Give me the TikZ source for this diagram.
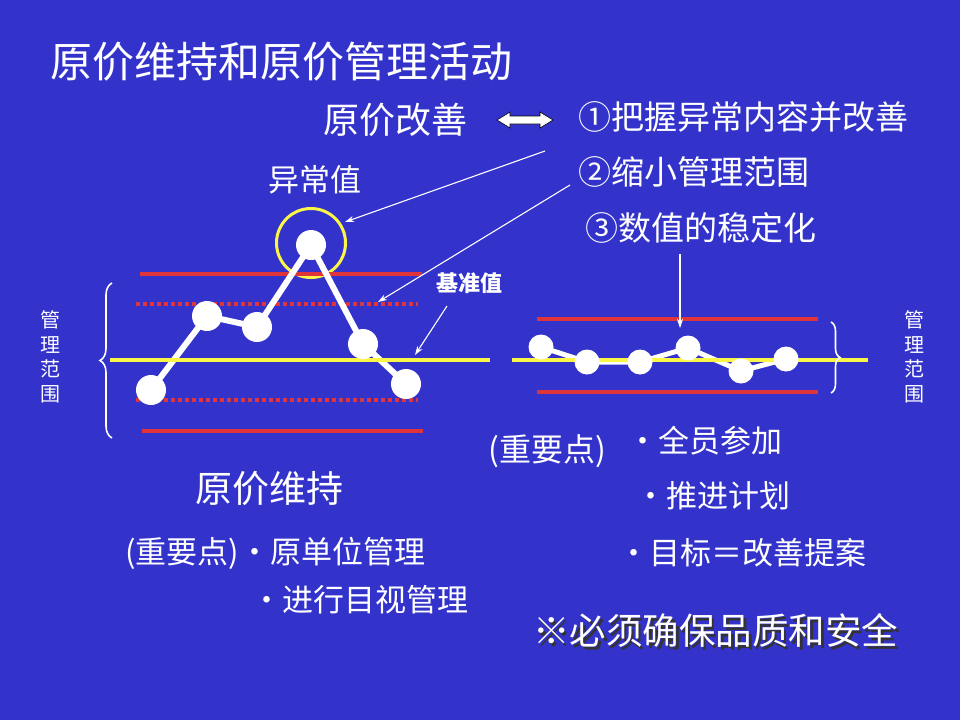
\documentclass[tikz,border=0pt]{standalone}
\usepackage{fontspec}
\newfontfamily\cjk{Noto Sans CJK SC}
\usetikzlibrary{arrows.meta,decorations.pathreplacing}
\definecolor{bg}{RGB}{51,51,204}
\definecolor{rline}{RGB}{222,52,58}
\definecolor{yline}{RGB}{250,245,70}
\tikzset{
  txt/.style={anchor=west,inner sep=0pt,text=white,font=\cjk},
  ptr/.style={draw=white,line width=1.1pt,-{Stealth[length=9pt,width=6pt]}},
  ctrl/.style={draw=rline,line width=4pt},
  ctrldot/.style={draw=rline,line width=3.5pt,dash pattern=on 3.5pt off 3.5pt},
  base/.style={draw=yline,line width=4pt},
  dotL/.style={circle,fill=white,minimum size=30pt,inner sep=0pt},
  dotR/.style={circle,fill=white,minimum size=25pt,inner sep=0pt},
  trendL/.style={draw=white,line width=6pt},
  trendR/.style={draw=white,line width=5pt},
  brace/.style={draw=white,line width=1.6pt,decorate},
  vtext/.style={inner sep=0pt,text=white,align=center,font=\cjk\fontsize{20}{24.5}\selectfont},
}
\newcommand{\shadowtext}[1]{\rlap{\kern2.5pt\raisebox{-2.5pt}{\color{black!80}#1}}#1}
\begin{document}
\begin{tikzpicture}[x=1pt,y=-1pt]
\fill[bg] (0,0) rectangle (960,720);
\useasboundingbox (0,0) rectangle (960,720);

% titles
\node[txt,font=\cjk\fontsize{42}{46}\selectfont] (title) at (50,62) {原价维持和原价管理活动};
\node[txt,font=\cjk\fontsize{36}{40}\selectfont] (kaizen) at (323,120) {原价改善};
\draw[fill=white,draw=black,line width=0.6pt] (497,120) -- (510,112) -- (510,116) -- (540,116) -- (540,112) -- (553,120) -- (540,128) -- (540,124) -- (510,124) -- (510,128) -- cycle;
\node[txt,font=\cjk\fontsize{33}{37}\selectfont] (s1) at (578,117) {①把握异常内容并改善};
\node[txt,font=\cjk\fontsize{33}{37}\selectfont] (s2) at (578,172) {②缩小管理范围};
\node[txt,font=\cjk\fontsize{33}{37}\selectfont] (s3) at (585,228) {③数值的稳定化};
\node[txt,font=\cjk\fontsize{31}{35}\selectfont] (abn) at (268,180) {异常值};
\node[txt,font=\cjk\bfseries\fontsize{22}{26}\selectfont] (ref) at (436,283) {基准值};

% left chart
\node[draw=yline,line width=3pt,circle,minimum size=69pt,inner sep=0pt] (ring) at (311,243) {};
\coordinate (lt1) at (140,274); \coordinate (lt2) at (422,274);
\coordinate (lb1) at (142,431); \coordinate (lb2) at (423,431);
\coordinate (ld1) at (136,304); \coordinate (ld2) at (418,304);
\coordinate (le1) at (136,400); \coordinate (le2) at (418,400);
\draw[ctrl] (lt1) -- (lt2);
\draw[ctrl] (lb1) -- (lb2);
\draw[ctrldot] (ld1) -- (ld2);
\draw[ctrldot] (le1) -- (le2);
\coordinate (a1) at (151,390);
\coordinate (a2) at (207,316);
\coordinate (a3) at (257,327);
\coordinate (a4) at (311,245);
\coordinate (a5) at (363,344);
\coordinate (a6) at (406,384);
\draw[trendL,line join=round] (a1) -- (a2) -- (a3) -- (a4) -- (a5) -- (a6);
\coordinate (y1) at (110,360); \coordinate (y2) at (490,360);
\draw[base] (y1) -- (y2);
\foreach \p in {a1,a2,a3,a4,a5,a6} \node[dotL] (n\p) at (\p) {};

% right chart
\coordinate (rt1) at (537,319); \coordinate (rt2) at (818,319);
\coordinate (rb1) at (537,392); \coordinate (rb2) at (818,392);
\draw[ctrl] (rt1) -- (rt2);
\draw[ctrl] (rb1) -- (rb2);
\coordinate (b1) at (541,347);
\coordinate (b2) at (587,362);
\coordinate (b3) at (640,362);
\coordinate (b4) at (688,348);
\coordinate (b5) at (741,371);
\coordinate (b6) at (786,359);
\draw[trendR,line join=round] (b1) -- (b2) -- (b3) -- (b4) -- (b5) -- (b6);
\coordinate (z1) at (512,360); \coordinate (z2) at (868,360);
\draw[base] (z1) -- (z2);
\foreach \p in {b1,b2,b3,b4,b5,b6} \node[dotR] (n\p) at (\p) {};

% braces
\coordinate (lbr1) at (112,438); \coordinate (lbr2) at (112,283);
\draw[brace,decoration={brace,amplitude=12pt}] (lbr1) -- (lbr2);
\coordinate (rbr1) at (831,322); \coordinate (rbr2) at (831,393);
\draw[brace,decoration={brace,amplitude=9pt}] (rbr1) -- (rbr2);
\node[vtext] (vl) at (50,357) {管\\理\\范\\围};
\node[vtext] (vr) at (914,357) {管\\理\\范\\围};

% pointer arrows
\coordinate (p1s) at (545,151);
\coordinate (p2s) at (570,185);
\coordinate (p3s) at (447,306);
\coordinate (p4s) at (680,254);
\coordinate (p1e) at (345,222);
\coordinate (p2e) at (378,302);
\coordinate (p3e) at (415,355);
\coordinate (p4e) at (680,328);
\draw[ptr] (p1s) -- (p1e);
\draw[ptr] (p2s) -- (p2e);
\draw[ptr] (p3s) -- (p3e);
\draw[ptr] (p4s) -- (p4e);

% lower texts
\node[txt,font=\cjk\fontsize{37}{41}\selectfont] (keep) at (195,489) {原价维持};
\node[txt,font=\cjk\fontsize{31}{35}\selectfont] (kp1) at (125,553) {(重要点)・原单位管理};
\node[txt,font=\cjk\fontsize{31}{35}\selectfont] (kp2) at (251,600) {・进行目视管理};
\node[txt,font=\cjk\fontsize{32}{36}\selectfont] (kp3) at (488,451) {(重要点)};
\node[txt,font=\cjk\fontsize{31}{35}\selectfont] (kp4) at (627,441) {・全员参加};
\node[txt,font=\cjk\fontsize{31}{35}\selectfont] (kp5) at (635,496) {・推进计划};
\node[txt,font=\cjk\fontsize{31}{35}\selectfont] (kp6) at (618,553) {・目标＝改善提案};
\node[txt,font=\cjk\fontsize{36.5}{40}\selectfont] (warn) at (533,632) {\shadowtext{※必须确保品质和安全}};
\end{tikzpicture}
\end{document}
